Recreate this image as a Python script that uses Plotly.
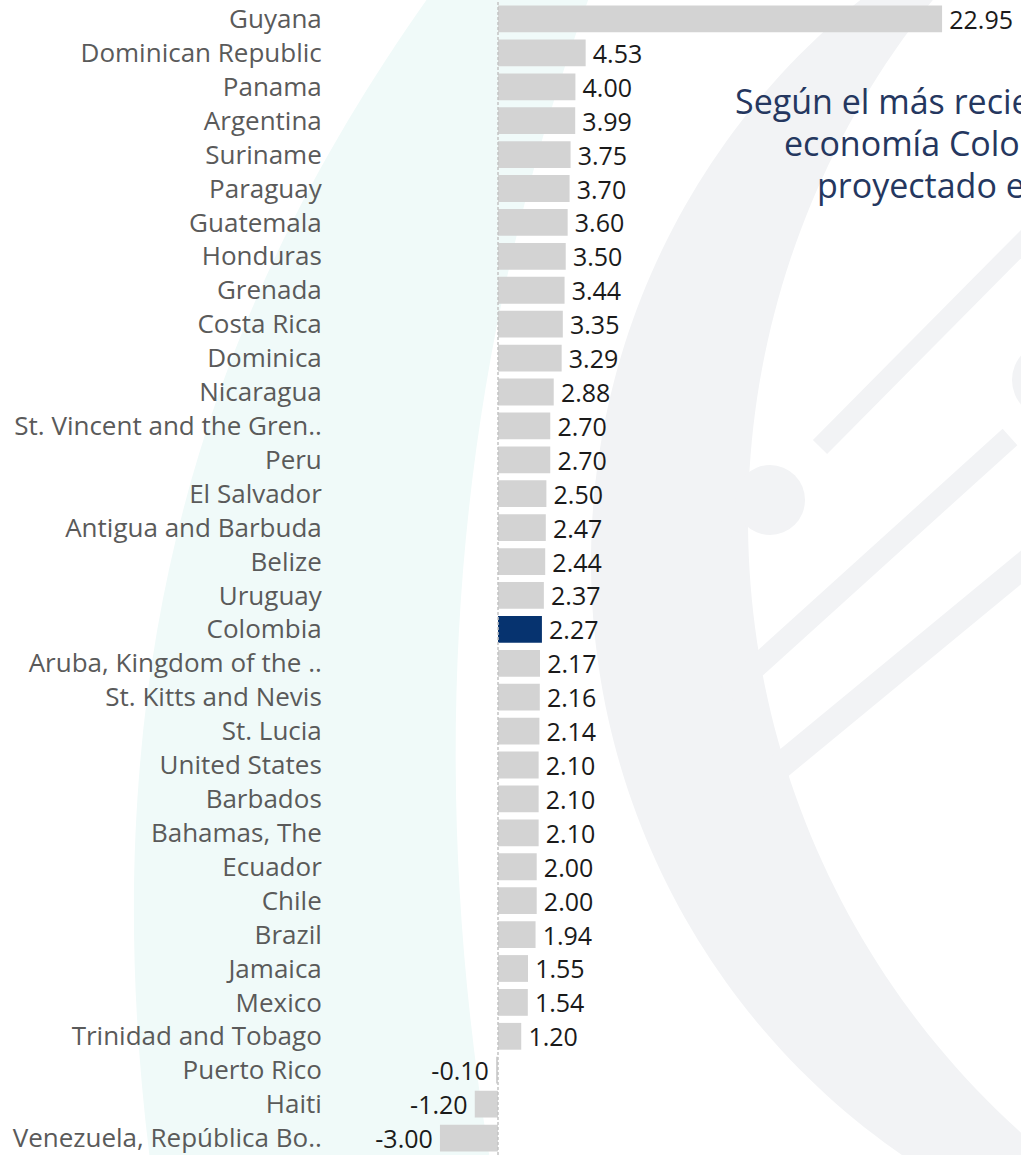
import numpy as np
import plotly.graph_objects as go

# ---------------- data ----------------
countries = [
    "Guyana", "Dominican Republic", "Panama", "Argentina", "Suriname", "Paraguay",
    "Guatemala", "Honduras", "Grenada", "Costa Rica", "Dominica", "Nicaragua",
    "St. Vincent and the Gren..", "Peru", "El Salvador", "Antigua and Barbuda",
    "Belize", "Uruguay", "Colombia", "Aruba, Kingdom of the ..", "St. Kitts and Nevis",
    "St. Lucia", "United States", "Barbados", "Bahamas, The", "Ecuador", "Chile",
    "Brazil", "Jamaica", "Mexico", "Trinidad and Tobago", "Puerto Rico", "Haiti",
    "Venezuela, República Bo..",
]
growth = [
    22.95, 4.53, 4.00, 3.99, 3.75, 3.70,
    3.60, 3.50, 3.44, 3.35, 3.29, 2.88,
    2.70, 2.70, 2.50, 2.47,
    2.44, 2.37, 2.27, 2.17, 2.16,
    2.14, 2.10, 2.10, 2.10, 2.00, 2.00,
    1.94, 1.55, 1.54, 1.20, -0.10, -1.20,
    -3.00,
]
highlight = "Colombia"
note_lines = [
    "Según el más reciente informe del FMI, la",
    "economía Colombiana tendría un crecimiento",
    "proyectado en 2024 de 2.27%",
]

# ---------------- styling ----------------
W, H = 1021, 1155
ML, MR, MT, MB = 330, 0, 2, 0
PW, PH = W - ML - MR, H - MT - MB

BAR = "#d3d3d3"
HI = "#06336f"
NAVY = "#25375f"
TEAL = "#f0faf9"
GREY = "#f2f3f5"

def px(x):
    return (x - ML) / PW

def py(y):
    return (H - MB - y) / PH

colors = [HI if c == highlight else BAR for c in countries]
templates = ["\u2009%{x:.2f}" if v >= 0 else "%{x:.2f}\u2009" for v in growth]

fig = go.Figure(
    go.Bar(
        x=growth,
        y=countries,
        orientation="h",
        marker=dict(color=colors, line=dict(width=0)),
        texttemplate=templates,
        textposition="outside",
        textfont=dict(family="Open Sans", size=25, color="#1a1a1a"),
        constraintext="none",
        cliponaxis=False,
        hoverinfo="skip",
    )
)

# ---------------- watermark (decorative) ----------------
shapes = []

def circle_pts(cx, cy, r, n=360, reverse=False):
    th = np.linspace(0, 2 * np.pi, n)
    if reverse:
        th = th[::-1]
    return [(cx + r * np.cos(t), cy + r * np.sin(t)) for t in th]

def to_path(points):
    return "M " + " L ".join(f"{px(a):.5f},{py(b):.5f}" for a, b in points) + " Z"

# teal crescent on the left
teal_path = (
    f"M {px(430):.5f},{py(-5):.5f} "
    f"C {px(250):.5f},{py(250):.5f} {px(80):.5f},{py(600):.5f} {px(150):.5f},{py(1160):.5f} "
    f"L {px(490):.5f},{py(1160):.5f} "
    f"C {px(430):.5f},{py(800):.5f} {px(440):.5f},{py(400):.5f} {px(590):.5f},{py(-5):.5f} Z"
)
shapes.append(dict(type="path", path=teal_path, xref="paper", yref="paper",
                   fillcolor=TEAL, line=dict(width=0), layer="below"))

# grey crescent on the right (outer circle minus offset inner circle)
ring_path = to_path(circle_pts(1312, 562, 721)) + " " + to_path(circle_pts(1572, 520, 824, reverse=True))
shapes.append(dict(type="path", path=ring_path, xref="paper", yref="paper",
                   fillcolor=GREY, line=dict(width=0), layer="below"))

# diagonal stripes and dots of the logo
for (x0, y0, x1, y1, w) in [
    (820, 447, 1030, 235, 20),
    (700, 548, 760, 505, 18),
    (727, 693, 1010, 437, 22),
    (745, 795, 1030, 560, 26),
]:
    shapes.append(dict(type="line", xref="paper", yref="paper",
                       x0=px(x0), y0=py(y0), x1=px(x1), y1=py(y1),
                       line=dict(color=GREY, width=w), layer="below"))
for (x, y, r) in [(770, 500, 35), (1050, 380, 38)]:
    shapes.append(dict(type="circle", xref="paper", yref="paper",
                       x0=px(x - r), y0=py(y + r), x1=px(x + r), y1=py(y - r),
                       fillcolor=GREY, line=dict(width=0), layer="below"))

# dashed zero line
shapes.append(dict(type="line", xref="x", yref="paper", x0=0, x1=0, y0=0, y1=1.01,
                   line=dict(color="#c4c4c4", width=1.5, dash="3px,2px"), layer="above"))

# ---------------- annotation ----------------
annotations = []
for line, (ax, ay) in zip(note_lines, [(733, 101), (782, 143), (815, 185)]):
    annotations.append(dict(
        text=line, xref="paper", yref="paper", x=px(ax), y=py(ay),
        xanchor="left", yanchor="middle", showarrow=False,
        font=dict(family="Open Sans", size=34, color=NAVY),
    ))

fig.update_layout(
    width=W, height=H,
    margin=dict(l=ML, r=MR, t=MT, b=MB),
    paper_bgcolor="white",
    plot_bgcolor="rgba(0,0,0,0)",
    bargap=0.21,
    showlegend=False,
    shapes=shapes,
    annotations=annotations,
    font=dict(family="Open Sans"),
    xaxis=dict(
        range=[(ML - 498) / 19.35, (W - 498) / 19.35],
        showgrid=False, zeroline=False, showticklabels=False, showline=False,
        fixedrange=True,
    ),
    yaxis=dict(
        type="category",
        autorange="reversed",
        showgrid=False, zeroline=False, showline=False,
        ticks="outside", ticklen=2, tickcolor="rgba(0,0,0,0)",
        tickfont=dict(family="Open Sans", size=26, color="#5a5a5a"),
        automargin=False,
        fixedrange=True,
    ),
)

fig.write_html(
    "out.html",
    config={"displayModeBar": False},
    post_script="document.body.style.margin='0';document.body.style.overflow='hidden';",
)
